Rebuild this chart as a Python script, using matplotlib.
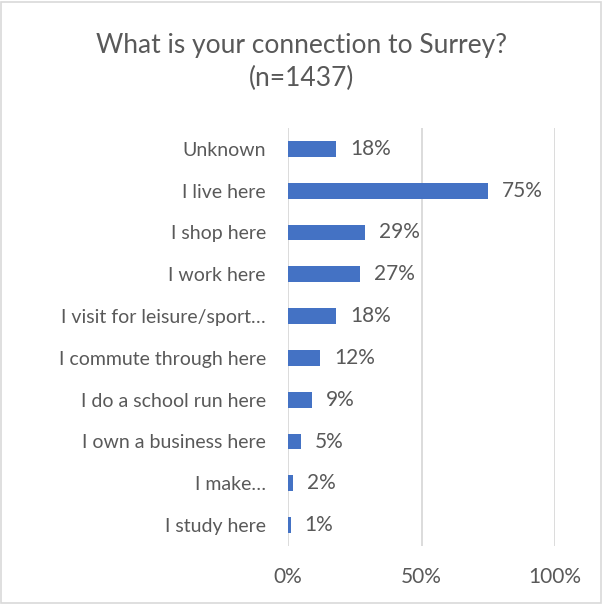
import numpy as np
import matplotlib
matplotlib.use('Agg')
import matplotlib.pyplot as plt
from matplotlib.patches import Rectangle

# data (top to bottom)
categories = ['Unknown', 'I live here', 'I shop here', 'I work here',
              'I visit for leisure/sport…', 'I commute through here',
              'I do a school run here', 'I own a business here',
              'I make…', 'I study here']
percents = [18, 75, 29, 27, 18, 12, 9, 5, 2, 1]
xticks = [0, 50, 100]

plt.rcParams['font.family'] = ['Lato', 'DejaVu Sans']
txt_col = '#595959'
bar_col = '#4472C4'
grid_col = '#D9D9D9'

fig = plt.figure(figsize=(6.03, 6.04), dpi=100)
fig.patches.append(Rectangle((0.002, 0.002), 0.994, 0.994, transform=fig.transFigure,
                             fill=False, edgecolor=grid_col, linewidth=1.2))

ax = fig.add_axes([288/603, (604-546)/604, (555-288)/603, (546-128)/604])
y = np.arange(len(categories))
ax.barh(y, percents, height=0.38, color=bar_col, zorder=3)
ax.set_ylim(len(categories) - 0.5, -0.5)
ax.set_xlim(0, 100)
ax.set_yticks(y)
ax.set_yticklabels(categories, fontsize=14, color=txt_col)
ax.set_xticks(xticks)
ax.set_xticklabels([f'{t}%' for t in xticks], fontsize=15, color=txt_col)
ax.tick_params(axis='y', length=0, pad=16)
ax.tick_params(axis='x', length=0, pad=15)
ax.grid(axis='x', color=grid_col, linewidth=1.3, zorder=0)
for s in ax.spines.values():
    s.set_visible(False)

for yi, v in zip(y, percents):
    ax.annotate(f'{v}%', (v, yi), xytext=(10, 0), textcoords='offset points',
                va='center', ha='left', fontsize=15, color=txt_col)

fig.text(0.5, 1 - 45/604, 'What is your connection to Surrey?', ha='center', va='center',
         fontsize=19, color=txt_col)
fig.text(0.5, 1 - 78/604, '(n=1437)', ha='center', va='center', fontsize=19, color=txt_col)

fig.savefig('out.png', dpi=100)
